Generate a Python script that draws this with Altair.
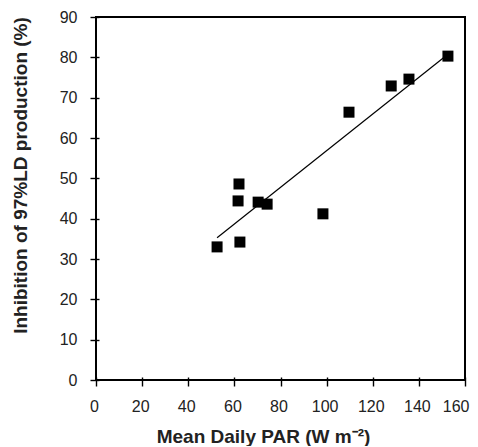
import altair as alt
import pandas as pd

par = [52.5, 62.0, 61.6, 62.4, 70.3, 74.2, 98.4, 109.7, 128.0, 135.7, 152.6]
inhibition = [33.0, 48.6, 44.4, 34.2, 44.1, 43.6, 41.2, 66.4, 72.9, 74.6, 80.3]
x_ticks = [0, 20, 40, 60, 80, 100, 120, 140, 160]
y_ticks = [0, 10, 20, 30, 40, 50, 60, 70, 80, 90]

df = pd.DataFrame({"par": par, "inh": inhibition})

FONT = "Liberation Sans"

xscale = alt.Scale(domain=[0, 160], nice=False, zero=False)
yscale = alt.Scale(domain=[0, 90], nice=False, zero=False)

xaxis = alt.Axis(
    title="Mean Daily PAR (W m⁻²)",
    values=x_ticks,
    grid=False, domain=False, offset=-3, tickSize=9, tickColor="black",
    tickWidth=1.4, labelFontSize=16, labelFont=FONT, labelColor="#222",
    labelPadding=12,
    labelAlign=alt.ExprRef(expr="datum.value == 160 ? 'right' : 'center'"),
    labelOffset=alt.ExprRef(expr="datum.value == 160 ? 4 : -2"),
    labelFlush=False, labelOverlap=False,
    titleFontSize=19, titleFont=FONT, titleFontWeight="bold",
    titleColor="#222", titleX=167, titleY=65, titleAlign="center",
    titleBaseline="alphabetic", titleLimit=1000,
)
yaxis = alt.Axis(
    title="Inhibition of 97%LD production (%)",
    values=y_ticks,
    grid=False, domain=False, offset=-3, tickSize=9, tickColor="black",
    tickWidth=1.4, labelFontSize=16, labelFont=FONT, labelColor="#222",
    labelPadding=13, labelFlush=False, labelOverlap=False,
    titleFontSize=19, titleFont=FONT, titleFontWeight="bold",
    titleColor="#222", titleX=-79, titleY=158, titleAngle=270,
    titleAlign="center", titleBaseline="middle", titleLimit=1000,
)

points = alt.Chart(df).mark_square(size=121, color="black", opacity=1).encode(
    x=alt.X("par:Q", scale=xscale, axis=xaxis),
    y=alt.Y("inh:Q", scale=yscale, axis=yaxis),
)

line = alt.Chart(df).transform_regression("par", "inh").mark_line(
    color="black", strokeWidth=1.2
).encode(
    x=alt.X("par:Q", scale=xscale),
    y=alt.Y("inh:Q", scale=yscale),
)

chart = (line + points).properties(
    width=369, height=363,
    autosize=alt.AutoSizeParams(type="none"),
    padding={"left": 88, "top": 9, "right": 5, "bottom": 66},
).configure_view(stroke="black", strokeWidth=2)

chart.save("out.html", embed_options={"renderer": "svg", "actions": False})
